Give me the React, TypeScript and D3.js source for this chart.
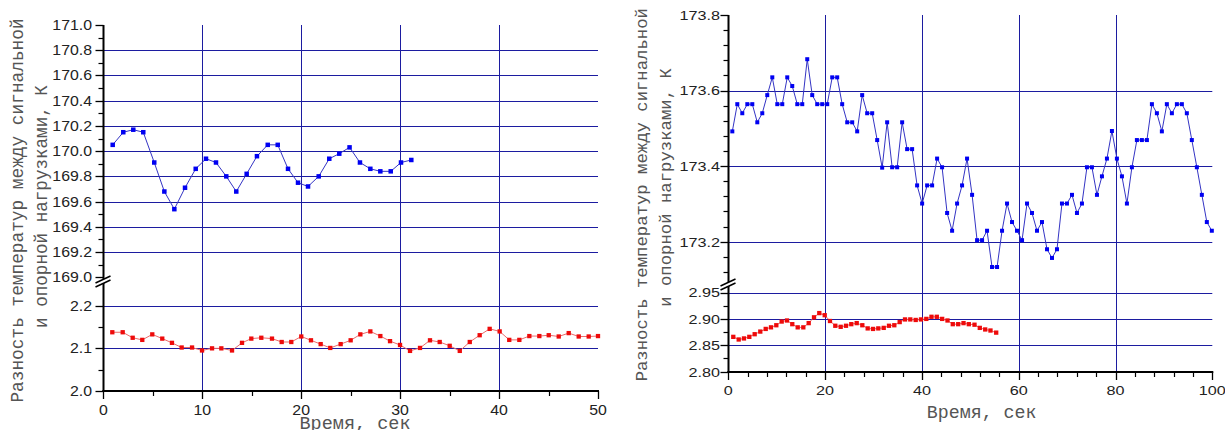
import React from "react";
import * as d3 from "d3";

// ---------- data: left panel ----------
const leftBlueTime = [0.95, 2.02, 3.03, 4.04, 5.15, 6.17, 7.18, 8.26, 9.34, 10.38, 11.39, 12.43, 13.44, 14.49, 15.53, 16.62, 17.63, 18.67, 19.68, 20.69, 21.77, 22.84, 23.85, 24.89, 25.94, 26.99, 28.0, 29.05, 30.09, 31.13];
const leftBlueValue = [170.05, 170.15, 170.17, 170.15, 169.91, 169.68, 169.54, 169.71, 169.86, 169.94, 169.91, 169.80, 169.68, 169.82, 169.96, 170.05, 170.05, 169.86, 169.75, 169.72, 169.80, 169.94, 169.98, 170.03, 169.91, 169.86, 169.84, 169.84, 169.91, 169.93];
const leftRedTime = [0.91, 1.96, 2.97, 3.94, 4.95, 5.96, 6.94, 7.92, 8.97, 9.98, 10.99, 11.93, 13.01, 14.02, 14.96, 15.97, 17.05, 18.03, 19.0, 20.01, 20.99, 21.97, 22.94, 23.99, 25.0, 25.98, 26.99, 28.0, 28.98, 29.99, 31.0, 32.01, 33.02, 34.0, 35.01, 36.03, 37.04, 38.04, 39.05, 40.06, 41.03, 42.05, 43.06, 44.07, 45.02, 46.03, 47.04, 48.05, 49.06, 50.0];
const leftRedValue = [2.138, 2.138, 2.125, 2.120, 2.133, 2.123, 2.113, 2.102, 2.102, 2.095, 2.100, 2.100, 2.095, 2.113, 2.123, 2.125, 2.123, 2.115, 2.115, 2.128, 2.119, 2.110, 2.101, 2.110, 2.119, 2.133, 2.140, 2.129, 2.117, 2.108, 2.094, 2.101, 2.119, 2.115, 2.106, 2.094, 2.115, 2.131, 2.146, 2.140, 2.120, 2.120, 2.129, 2.129, 2.131, 2.128, 2.136, 2.128, 2.128, 2.129];

// ---------- data: right panel ----------
const rightBlueTime = [0.83, 1.86, 2.89, 3.93, 4.96, 5.99, 7.02, 8.05, 9.09, 10.12, 11.15, 12.18, 13.21, 14.25, 15.28, 16.31, 17.34, 18.37, 19.41, 20.44, 21.47, 22.50, 23.53, 24.57, 25.60, 26.63, 27.66, 28.69, 29.73, 30.76, 31.79, 32.82, 33.85, 34.89, 35.92, 36.95, 37.98, 39.01, 40.05, 41.08, 42.11, 43.14, 44.17, 45.21, 46.24, 47.27, 48.30, 49.33, 50.37, 51.40, 52.43, 53.46, 54.49, 55.53, 56.56, 57.59, 58.62, 59.65, 60.69, 61.72, 62.75, 63.78, 64.81, 65.85, 66.88, 67.91, 68.94, 69.97, 71.01, 72.04, 73.07, 74.10, 75.13, 76.17, 77.20, 78.23, 79.26, 80.29, 81.33, 82.36, 83.39, 84.42, 85.45, 86.49, 87.52, 88.55, 89.58, 90.61, 91.65, 92.68, 93.71, 94.74, 95.77, 96.81, 97.84, 98.87, 99.90];
const rightBlueValue = [173.492, 173.564, 173.540, 173.564, 173.564, 173.516, 173.540, 173.588, 173.635, 173.564, 173.564, 173.635, 173.612, 173.564, 173.564, 173.683, 173.588, 173.564, 173.564, 173.564, 173.635, 173.635, 173.564, 173.516, 173.516, 173.492, 173.588, 173.540, 173.540, 173.469, 173.396, 173.516, 173.397, 173.397, 173.516, 173.445, 173.445, 173.349, 173.301, 173.349, 173.349, 173.420, 173.397, 173.276, 173.229, 173.301, 173.349, 173.420, 173.324, 173.204, 173.204, 173.229, 173.133, 173.133, 173.229, 173.301, 173.252, 173.229, 173.204, 173.301, 173.276, 173.229, 173.252, 173.180, 173.157, 173.180, 173.301, 173.301, 173.324, 173.276, 173.301, 173.397, 173.397, 173.324, 173.373, 173.420, 173.493, 173.420, 173.373, 173.301, 173.397, 173.469, 173.469, 173.469, 173.564, 173.540, 173.492, 173.564, 173.540, 173.564, 173.564, 173.540, 173.469, 173.397, 173.324, 173.252, 173.229];
const rightRedTime = [1.03, 2.15, 3.24, 4.34, 5.45, 6.61, 7.73, 8.82, 9.92, 11.03, 12.13, 13.22, 14.34, 15.50, 16.61, 17.71, 18.80, 19.92, 21.01, 22.11, 23.22, 24.32, 25.41, 26.53, 27.69, 28.80, 29.90, 30.99, 32.11, 33.20, 34.30, 35.41, 36.51, 37.60, 38.72, 39.81, 40.91, 41.98, 43.08, 44.19, 45.29, 46.38, 47.50, 48.60, 49.69, 50.87, 51.96, 53.08, 54.17, 55.35];
const rightRedValue = [2.866, 2.861, 2.863, 2.866, 2.871, 2.876, 2.881, 2.884, 2.888, 2.895, 2.897, 2.890, 2.884, 2.884, 2.892, 2.903, 2.911, 2.907, 2.896, 2.887, 2.885, 2.887, 2.890, 2.892, 2.888, 2.882, 2.881, 2.882, 2.883, 2.887, 2.888, 2.894, 2.899, 2.899, 2.898, 2.899, 2.900, 2.904, 2.904, 2.900, 2.897, 2.890, 2.890, 2.892, 2.890, 2.889, 2.883, 2.880, 2.878, 2.874];

// ---------- tick labels ----------
const leftUpperTicks = ["169.0", "169.2", "169.4", "169.6", "169.8", "170.0", "170.2", "170.4", "170.6", "170.8", "171.0"];
const leftLowerTicks = ["2.0", "2.1", "2.2"];
const leftXTicks = ["0", "10", "20", "30", "40", "50"];
const rightUpperTicks = ["173.2", "173.4", "173.6", "173.8"];
const rightLowerTicks = ["2.80", "2.85", "2.90", "2.95"];
const rightXTicks = ["0", "20", "40", "60", "80", "100"];

const yTitle1 = "Разность температур между сигнальной";
const yTitle2 = "и опорной нагрузками, К";
const xTitle = "Время, сек";

const GRID = "#1c1ca0";
const BLUE = "#0000f2";
const BLUE_LINE = "#3434c4";
const RED = "#ee0a0a";
const RED_LINE = "#ec6a6a";
const TITLE_FONT = "'Liberation Mono', 'DejaVu Sans Mono', monospace";
const TICK_FONT = "'Liberation Sans', Arial, sans-serif";

type Cfg = {
  x0: number; x1: number; xDomain: [number, number];
  xMinorStep: number; xGrid: number[];
  yTop: number; yBottom: number;
  upperDomain: [number, number]; upperRange: [number, number];
  lowerDomain: [number, number]; lowerRange: [number, number];
  upperMinor: number[]; lowerMinor: number[];
  upperGrid: number[]; lowerGrid: number[];
  breakY: number;
  blueSize: number; redSize: number;
  yLabelRight: number; xLabelBaseline: number;
  title1: { bx: number; cy: number; fs: number };
  title2: { bx: number; cy: number; fs: number };
  xTitle: { cx: number; by: number; fs: number };
  tickScale: number; tickFs: number;
};

const px = (v: number) => Math.round(v) + 0.5;

function Panel(props: {
  cfg: Cfg;
  blueT: number[]; blueV: number[]; redT: number[]; redV: number[];
  upperTicks: string[]; lowerTicks: string[]; xTicks: string[];
}) {
  const { cfg, blueT, blueV, redT, redV, upperTicks, lowerTicks, xTicks } = props;
  const x = d3.scaleLinear().domain(cfg.xDomain).range([cfg.x0, cfg.x1]);
  const yU = d3.scaleLinear().domain(cfg.upperDomain).range(cfg.upperRange);
  const yL = d3.scaleLinear().domain(cfg.lowerDomain).range(cfg.lowerRange);

  const blueLine = d3.line<number>().x((_, i) => x(blueT[i])).y((d) => yU(d))(blueV) || "";
  const redLine = d3.line<number>().x((_, i) => x(redT[i])).y((d) => yL(d))(redV) || "";

  const xMajorVals = xTicks.map(Number);
  const xMinorVals = d3.range(cfg.xDomain[0], cfg.xDomain[1] + 1e-9, cfg.xMinorStep).filter(
    (v) => !xMajorVals.some((m) => Math.abs(m - v) < 1e-6)
  );
  const ax = px(cfg.x0);
  const ay = Math.round(cfg.yBottom);

  const by = cfg.breakY;
  return (
    <g>
      {/* horizontal grid */}
      {cfg.upperGrid.map((v) => (
        <line key={"ug" + v} x1={cfg.x0} x2={cfg.x1} y1={px(yU(v))} y2={px(yU(v))} stroke={GRID} strokeWidth={1} />
      ))}
      {cfg.lowerGrid.map((v) => (
        <line key={"lg" + v} x1={cfg.x0} x2={cfg.x1} y1={px(yL(v))} y2={px(yL(v))} stroke={GRID} strokeWidth={1} />
      ))}
      {/* vertical grid */}
      {cfg.xGrid.map((v) => (
        <line key={"vg" + v} x1={px(x(v))} x2={px(x(v))} y1={cfg.yTop} y2={cfg.yBottom} stroke={GRID} strokeWidth={1} />
      ))}

      {/* series */}
      <path d={blueLine} fill="none" stroke={BLUE_LINE} strokeWidth={1} />
      {blueV.map((v, i) => (
        <rect key={"b" + i} x={x(blueT[i]) - cfg.blueSize / 2} y={yU(v) - cfg.blueSize / 2} width={cfg.blueSize} height={cfg.blueSize} fill={BLUE} />
      ))}
      <path d={redLine} fill="none" stroke={RED_LINE} strokeWidth={1} />
      {redV.map((v, i) => (
        <rect key={"r" + i} x={x(redT[i]) - cfg.redSize / 2} y={yL(v) - cfg.redSize / 2} width={cfg.redSize} height={cfg.redSize} fill={RED} />
      ))}

      {/* axes */}
      <line x1={ax} x2={ax} y1={cfg.yTop} y2={ay + 1} stroke="#000" strokeWidth={2} />
      <line x1={cfg.x0 - 1} x2={cfg.x1 + 1} y1={ay} y2={ay} stroke="#000" strokeWidth={2} />

      {/* y ticks */}
      {upperTicks.map((t) => {
        const y = yU(Number(t));
        return (
          <g key={"ut" + t}>
            <line x1={ax - 8} x2={ax} y1={px(y)} y2={px(y)} stroke="#000" strokeWidth={1.3} />
            <text transform={`translate(${cfg.yLabelRight},${y + cfg.tickFs * 0.36}) scale(${cfg.tickScale},1)`} textAnchor="end" fontFamily={TICK_FONT} fontSize={cfg.tickFs} fill="#222">{t}</text>
          </g>
        );
      })}
      {cfg.upperMinor.map((v) => (
        <line key={"um" + v} x1={ax - 5} x2={ax} y1={px(yU(v))} y2={px(yU(v))} stroke="#000" strokeWidth={1.2} />
      ))}
      {lowerTicks.map((t) => {
        const y = yL(Number(t));
        return (
          <g key={"lt" + t}>
            <line x1={ax - 8} x2={ax} y1={px(y)} y2={px(y)} stroke="#000" strokeWidth={1.3} />
            <text transform={`translate(${cfg.yLabelRight},${y + cfg.tickFs * 0.36}) scale(${cfg.tickScale},1)`} textAnchor="end" fontFamily={TICK_FONT} fontSize={cfg.tickFs} fill="#222">{t}</text>
          </g>
        );
      })}
      {cfg.lowerMinor.map((v) => (
        <line key={"lm" + v} x1={ax - 5} x2={ax} y1={px(yL(v))} y2={px(yL(v))} stroke="#000" strokeWidth={1.2} />
      ))}

      {/* x ticks */}
      {xTicks.map((t) => {
        const xx = x(Number(t));
        return (
          <g key={"xt" + t}>
            <line x1={px(xx)} x2={px(xx)} y1={ay} y2={ay + 8} stroke="#000" strokeWidth={1.3} />
            <text transform={`translate(${xx},${cfg.xLabelBaseline}) scale(${cfg.tickScale},1)`} textAnchor="middle" fontFamily={TICK_FONT} fontSize={cfg.tickFs} fill="#222">{t}</text>
          </g>
        );
      })}
      {xMinorVals.map((v) => (
        <line key={"xm" + v} x1={px(x(v))} x2={px(x(v))} y1={ay} y2={ay + 5} stroke="#000" strokeWidth={1.2} />
      ))}

      {/* axis break */}
      <polygon points={`${ax - 8},${by + 2} ${ax + 7},${by - 5} ${ax + 7},${by - 1} ${ax - 8},${by + 6}`} fill="#fff" />
      <line x1={ax - 8} y1={by + 2} x2={ax + 7} y2={by - 5} stroke="#000" strokeWidth={1.5} />
      <line x1={ax - 8} y1={by + 6} x2={ax + 7} y2={by - 1} stroke="#000" strokeWidth={1.5} />

      {/* titles */}
      <text transform={`translate(${cfg.title1.bx},${cfg.title1.cy}) rotate(-90)`} textAnchor="middle" fontFamily={TITLE_FONT} fontSize={cfg.title1.fs} fill="#555">{yTitle1}</text>
      <text transform={`translate(${cfg.title2.bx},${cfg.title2.cy}) rotate(-90)`} textAnchor="middle" fontFamily={TITLE_FONT} fontSize={cfg.title2.fs} fill="#555">{yTitle2}</text>
      <text x={cfg.xTitle.cx} y={cfg.xTitle.by} textAnchor="middle" fontFamily={TITLE_FONT} fontSize={cfg.xTitle.fs} fill="#555">{xTitle}</text>
    </g>
  );
}

const leftCfg: Cfg = {
  x0: 103.3, x1: 598, xDomain: [0, 50], xMinorStep: 5, xGrid: [10, 20, 30, 40],
  yTop: 25, yBottom: 390.7,
  upperDomain: [169.0, 171.0], upperRange: [277.3, 25],
  lowerDomain: [2.0, 2.2], lowerRange: [390.7, 306],
  upperMinor: d3.range(169.1, 171.0, 0.2),
  lowerMinor: [2.05, 2.15],
  upperGrid: [169.2, 169.4, 169.6, 169.8, 170.0, 170.2, 170.4, 170.6, 170.8],
  lowerGrid: [2.1, 2.2],
  breakY: 281,
  blueSize: 4.5, redSize: 4.3,
  yLabelRight: 92, xLabelBaseline: 415,
  title1: { bx: 22.5, cy: 210.5, fs: 17.8 },
  title2: { bx: 46.5, cy: 206.5, fs: 17.6 },
  xTitle: { cx: 355, by: 428.5, fs: 18.5 },
  tickScale: 1.15, tickFs: 13.8,
};

const rightCfg: Cfg = {
  x0: 728.3, x1: 1212.3, xDomain: [0, 100], xMinorStep: 4, xGrid: [20, 40, 60, 80],
  yTop: 15, yBottom: 371.7,
  upperDomain: [173.2, 173.8], upperRange: [241.7, 15],
  lowerDomain: [2.8, 2.95], lowerRange: [371.7, 292.5],
  upperMinor: [173.12, 173.16, 173.24, 173.28, 173.32, 173.36, 173.44, 173.48, 173.52, 173.56, 173.64, 173.68, 173.72, 173.76],
  lowerMinor: [2.825, 2.875, 2.925],
  upperGrid: [173.2, 173.4, 173.6],
  lowerGrid: [2.85, 2.9, 2.95],
  breakY: 284,
  blueSize: 4, redSize: 4.3,
  yLabelRight: 720, xLabelBaseline: 395,
  title1: { bx: 647, cy: 194.7, fs: 17.3 },
  title2: { bx: 671, cy: 187.5, fs: 17.3 },
  xTitle: { cx: 981.7, by: 417.5, fs: 18.3 },
  tickScale: 1.2, tickFs: 13.5,
};

export default function App() {
  return (
    <svg width={1225} height={430} viewBox="0 0 1225 430" style={{ position: "absolute", left: 0, top: 0, background: "#fff" }}>
      <rect x={0} y={0} width={1225} height={430} fill="#fff" />
      <Panel cfg={leftCfg} blueT={leftBlueTime} blueV={leftBlueValue} redT={leftRedTime} redV={leftRedValue}
        upperTicks={leftUpperTicks} lowerTicks={leftLowerTicks} xTicks={leftXTicks} />
      <Panel cfg={rightCfg} blueT={rightBlueTime} blueV={rightBlueValue} redT={rightRedTime} redV={rightRedValue}
        upperTicks={rightUpperTicks} lowerTicks={rightLowerTicks} xTicks={rightXTicks} />
    </svg>
  );
}
